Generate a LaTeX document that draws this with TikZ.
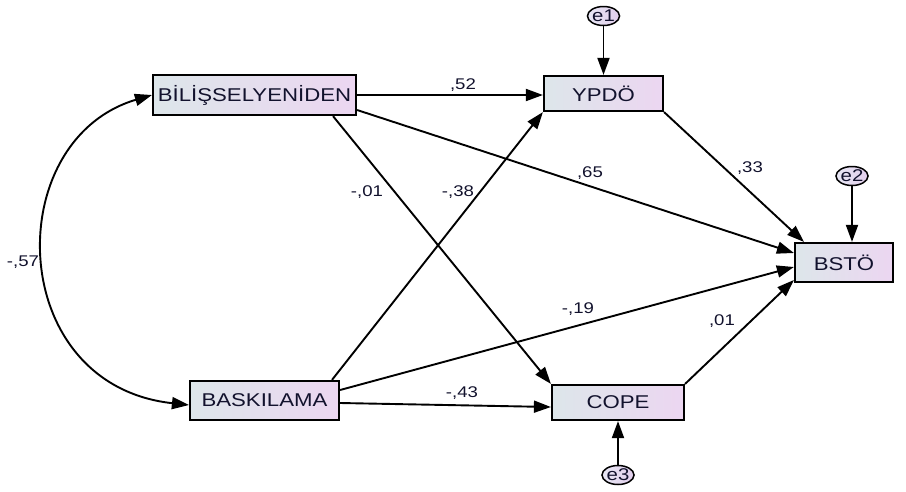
\documentclass[tikz,border=0pt]{standalone}
\usepackage{fontspec}
\usepackage{graphicx}
\setmainfont{Liberation Sans}
\usetikzlibrary{arrows.meta,calc,shapes.geometric}
\definecolor{boxl}{RGB}{221,230,234}
\definecolor{boxr}{RGB}{236,214,241}
\definecolor{errl}{RGB}{232,232,245}
\definecolor{errr}{RGB}{225,205,235}
\definecolor{ink}{RGB}{18,18,45}
% slightly widened lettering
\newcommand{\wide}[1]{\scalebox{1.2}[1]{#1}}
\tikzset{
  var/.style={draw=black, line width=2.2pt, inner sep=0pt,
    left color=boxl, right color=boxr, text=ink,
    font=\fontsize{18.5}{20}\selectfont},
  err/.style={ellipse, draw=black, line width=1.5pt, inner sep=0pt,
    minimum width=26pt, minimum height=19pt,
    left color=errl, right color=errr, text=ink,
    font=\fontsize{17}{17}\selectfont},
  effect/.style={line width=1.9pt, -{Triangle[length=17pt,width=12pt]}},
  covar/.style={line width=1.9pt,
    {Triangle[length=17pt,width=12pt]}-{Triangle[length=17pt,width=12pt]}},
  coef/.style={font=\fontsize{15.5}{16}\selectfont, text=ink, inner sep=0pt}
}
\begin{document}
\begin{tikzpicture}[x=1pt,y=-1pt]
\useasboundingbox (0,0) rectangle (906,491);

% observed variables
\node[var, minimum width=203pt, minimum height=40pt] (bil) at (254.5,95) {\wide{BİLİŞSELYENİDEN}};
\node[var, minimum width=149pt, minimum height=39pt] (bas) at (264.5,400.5) {\wide{BASKILAMA}};
\node[var, minimum width=119pt, minimum height=35pt] (ypd) at (603.5,93.5) {\wide{YPDÖ}};
\node[var, minimum width=132pt, minimum height=35pt] (cop) at (618,402.5) {\wide{COPE}};
\node[var, minimum width=98pt, minimum height=39pt] (bst) at (844,262.5) {\wide{BSTÖ}};

% error terms
\node[err] (e1) at (603.5,16) {\wide{e1}};
\node[err] (e2) at (852,176) {\wide{e2}};
\node[err] (e3) at (618,475) {\wide{e3}};

% error paths
\draw[effect] (e1) -- (ypd.north);
\draw[effect] (e2) -- (e2 |- bst.north);
\draw[effect] (e3) -- (cop.south);

% structural paths
\draw[effect] (bil.east) -- (bil.east -| ypd.west);
\draw[effect] ($(bil.east)+(0,15)$) -- ($(bst.west)+(0,-9.5)$);
\draw[effect] ($(bil.south)+(78.5,0)$) -- (cop.north west);
\draw[effect] ($(bas.north)+(67.5,0)$) -- (ypd.south west);
\draw[effect] ($(bas.east)+(0,-10.5)$) -- ($(bst.west)+(0,4.5)$);
\draw[effect] ($(bas.east)+(0,2.5)$) -- ($(cop.west)+(0,4.5)$);
\draw[effect] (ypd.south east) -- ($(bst.north west)+(10,0)$);
\draw[effect] (cop.north east) -- ($(bst.west)+(0,17.5)$);

% covariance
\draw[covar] (bil.west) .. controls (0,140) and (5,385) .. ($(bas.west)+(0,4.5)$);

% coefficients
\node[coef] (c52) at (463,85) {\wide{,52}};
\node[coef] (c65) at (590,173) {\wide{,65}};
\node[coef] (c01a) at (367,192) {\wide{-,01}};
\node[coef] (c38) at (458,192) {\wide{-,38}};
\node[coef] (c19) at (578,309) {\wide{-,19}};
\node[coef] (c43) at (462,393) {\wide{-,43}};
\node[coef] (c33) at (750,168) {\wide{,33}};
\node[coef] (c01b) at (722,321) {\wide{,01}};
\node[coef] (c57) at (23,262) {\wide{-,57}};
\end{tikzpicture}
\end{document}
